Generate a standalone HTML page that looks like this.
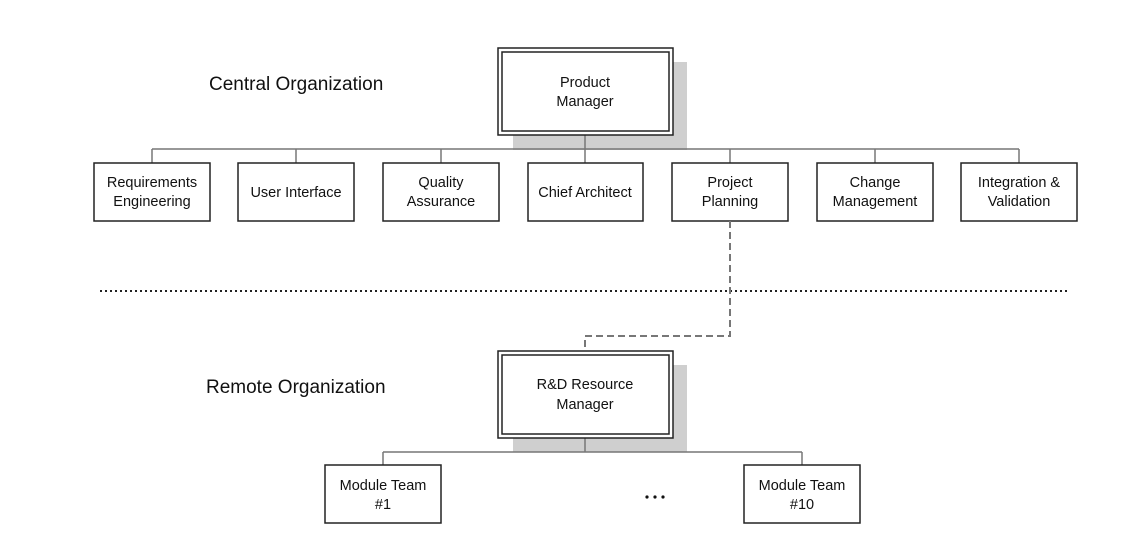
<!DOCTYPE html>
<html><head><style>body{margin:0;background:#fff}svg{display:block}text{font-family:"Liberation Sans",Arial,sans-serif;fill:#111}</style></head>
<body>
<svg width="1132" height="557" viewBox="0 0 1132 557" xmlns="http://www.w3.org/2000/svg">
<text x="209" y="90" font-size="19">Central Organization</text>
<text x="206" y="393" font-size="19">Remote Organization</text>
<rect x="513" y="62" width="174" height="88" fill="#cfcfcf"/>
<g stroke="#777" stroke-width="1.5" fill="none">
<line x1="152" y1="149" x2="1019" y2="149"/>
<line x1="585" y1="134" x2="585" y2="163"/>
<line x1="152" y1="149" x2="152" y2="163"/>
<line x1="296" y1="149" x2="296" y2="163"/>
<line x1="441" y1="149" x2="441" y2="163"/>
<line x1="730" y1="149" x2="730" y2="163"/>
<line x1="875" y1="149" x2="875" y2="163"/>
<line x1="1019" y1="149" x2="1019" y2="163"/>
</g>
<rect x="498" y="48" width="175" height="87" fill="#fff" stroke="#222" stroke-width="1.5"/>
<rect x="502" y="52" width="167" height="79" fill="none" stroke="#222" stroke-width="1.5"/>
<text x="585" y="87" font-size="14.5" text-anchor="middle">Product</text>
<text x="585" y="106" font-size="14.5" text-anchor="middle">Manager</text>
<g fill="#fff" stroke="#222" stroke-width="1.5">
<rect x="94" y="163" width="116" height="58"/>
<rect x="238" y="163" width="116" height="58"/>
<rect x="383" y="163" width="116" height="58"/>
<rect x="528" y="163" width="115" height="58"/>
<rect x="672" y="163" width="116" height="58"/>
<rect x="817" y="163" width="116" height="58"/>
<rect x="961" y="163" width="116" height="58"/>
</g>
<g font-size="14.5" text-anchor="middle">
<text x="152" y="187">Requirements</text><text x="152" y="206">Engineering</text>
<text x="296" y="197">User Interface</text>
<text x="441" y="187">Quality</text><text x="441" y="206">Assurance</text>
<text x="585" y="197">Chief Architect</text>
<text x="730" y="187">Project</text><text x="730" y="206">Planning</text>
<text x="875" y="187">Change</text><text x="875" y="206">Management</text>
<text x="1019" y="187">Integration &amp;</text><text x="1019" y="206">Validation</text>
</g>
<line x1="100" y1="291" x2="1068" y2="291" stroke="#222" stroke-width="2" stroke-dasharray="2,3"/>
<polyline points="730,221 730,336 585,336 585,351" fill="none" stroke="#777" stroke-width="2" stroke-dasharray="7,4"/>
<rect x="513" y="365" width="174" height="87" fill="#cfcfcf"/>
<g stroke="#777" stroke-width="1.5" fill="none">
<line x1="383" y1="452" x2="802" y2="452"/>
<line x1="585" y1="437" x2="585" y2="452"/>
<line x1="383" y1="452" x2="383" y2="465"/>
<line x1="802" y1="452" x2="802" y2="465"/>
</g>
<rect x="498" y="351" width="175" height="87" fill="#fff" stroke="#222" stroke-width="1.5"/>
<rect x="502" y="355" width="167" height="79" fill="none" stroke="#222" stroke-width="1.5"/>
<text x="585" y="389" font-size="14.5" text-anchor="middle">R&amp;D Resource</text>
<text x="585" y="409" font-size="14.5" text-anchor="middle">Manager</text>
<rect x="325" y="465" width="116" height="58" fill="#fff" stroke="#222" stroke-width="1.5"/>
<rect x="744" y="465" width="116" height="58" fill="#fff" stroke="#222" stroke-width="1.5"/>
<g font-size="14.5" text-anchor="middle">
<text x="383" y="490">Module Team</text><text x="383" y="509">#1</text>
<text x="802" y="490">Module Team</text><text x="802" y="509">#10</text>
</g>
<g fill="#111"><circle cx="647" cy="497" r="1.6"/><circle cx="655" cy="497" r="1.6"/><circle cx="663" cy="497" r="1.6"/></g>
</svg>
</body></html>
